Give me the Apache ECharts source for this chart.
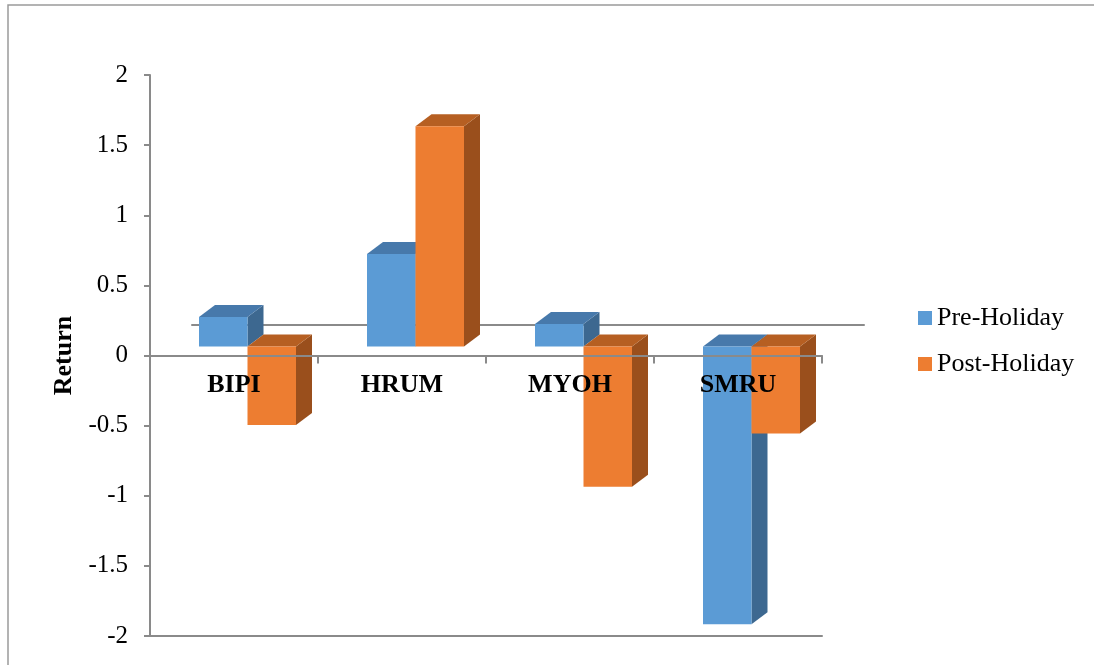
<!DOCTYPE html>
<html>
<head>
<meta charset="utf-8">
<script src="https://cdn.jsdelivr.net/npm/echarts@6/dist/echarts.min.js"></script>
<style>
  html, body { margin: 0; padding: 0; background: #fff; }
  #main { width: 1094px; height: 665px; }
</style>
</head>
<body>
<div id="main"></div>
<script>
// data
var categories = ['BIPI', 'HRUM', 'MYOH', 'SMRU'];
var preHoliday = [0.21, 0.66, 0.16, -1.98];
var postHoliday = [-0.56, 1.57, -1.0, -0.62];
var yTicks = { min: -2, max: 2, interval: 0.5 };

var FONT = '"Liberation Serif", "Times New Roman", serif';
var AXIS_GREY = '#8a8a8a';
var BAR_W = 48.5;     // front face width
var DX = 16, DY = 12; // fake 3D depth

var myChart = echarts.init(document.getElementById('main'));

// draws one pseudo-3D column: front, top and right side
function make3d(offsetBars, front, top, side) {
  return function (params, api) {
    var cat = api.value(0);
    var v = api.value(1);
    var pBase = api.coord([cat, 0]);
    var pVal = api.coord([cat, v]);
    var x0 = pBase[0] + offsetBars * BAR_W;
    var yt = Math.min(pBase[1], pVal[1]);
    var yb = Math.max(pBase[1], pVal[1]);
    var w = BAR_W;
    return {
      type: 'group',
      children: [
        { type: 'polygon',
          shape: { points: [[x0 + w, yt], [x0 + w, yb], [x0 + w + DX, yb - DY], [x0 + w + DX, yt - DY]] },
          style: { fill: side } },
        { type: 'polygon',
          shape: { points: [[x0, yt], [x0 + w, yt], [x0 + w + DX, yt - DY], [x0 + DX, yt - DY]] },
          style: { fill: top } },
        { type: 'rect',
          shape: { x: x0, y: yt, width: w, height: yb - yt },
          style: { fill: front } }
      ]
    };
  };
}

function toPairs(arr) {
  return arr.map(function (v, i) { return [i, v]; });
}

function hiddenY(idx, min) {
  return {
    type: 'value', gridIndex: idx, min: min, max: yTicks.max, interval: yTicks.interval,
    axisLine: { show: false }, axisTick: { show: false }, axisLabel: { show: false }, splitLine: { show: false }
  };
}

option = {
  animation: false,
  backgroundColor: '#fff',
  graphic: [{
    type: 'rect', silent: true,
    shape: { x: 8, y: 5, width: 1300, height: 900 },
    style: { fill: 'none', stroke: '#9a9a9a', lineWidth: 1.5 }
  }],
  legend: {
    orient: 'vertical',
    left: 913, top: 300,
    icon: 'rect',
    itemWidth: 14, itemHeight: 14,
    itemGap: 20,
    textStyle: { fontFamily: FONT, fontSize: 26, color: '#000' },
    data: ['Pre-Holiday', 'Post-Holiday']
  },
  grid: [
    { left: 150, top: 75, width: 672, height: 561, outerBoundsMode: 'none' },    // front axes + bottom edge
    { left: 163.5, top: 66, width: 672, height: 561, outerBoundsMode: 'none' },  // bars (mid depth)
    { left: 192, top: 44, width: 672, height: 280.5, outerBoundsMode: 'none' },  // back floor edge at zero
    { left: 150, top: 75, width: 672, height: 280.5, outerBoundsMode: 'none' }   // front zero line + labels
  ],
  xAxis: [
    { type: 'category', gridIndex: 0, data: categories, position: 'bottom',
      axisLine: { onZero: false, lineStyle: { color: AXIS_GREY, width: 2 } },
      axisTick: { show: false }, axisLabel: { show: false } },
    { type: 'category', gridIndex: 1, data: categories, show: false },
    { type: 'category', gridIndex: 2, data: categories, position: 'bottom', z: 0,
      axisLine: { onZero: false, lineStyle: { color: AXIS_GREY, width: 2 } },
      axisTick: { show: false }, axisLabel: { show: false } },
    { type: 'category', gridIndex: 3, data: categories, position: 'bottom', z: 10,
      axisLine: { onZero: false, lineStyle: { color: AXIS_GREY, width: 2 } },
      axisTick: { show: true, length: 8, lineStyle: { color: AXIS_GREY, width: 2 } },
      axisLabel: { fontFamily: FONT, fontSize: 26, fontWeight: 'bold', color: '#000', margin: 17 },
      splitLine: { show: false } }
  ],
  yAxis: [
    { type: 'value', gridIndex: 0, min: yTicks.min, max: yTicks.max, interval: yTicks.interval,
      name: 'Return', nameLocation: 'middle', nameRotate: 90, nameGap: 72,
      nameTextStyle: { fontFamily: FONT, fontSize: 26, fontWeight: 'bold', color: '#000' },
      axisLine: { show: true, lineStyle: { color: AXIS_GREY, width: 2 } },
      axisTick: { show: true, length: 6, lineStyle: { color: AXIS_GREY, width: 2 } },
      axisLabel: { fontFamily: FONT, fontSize: 25, color: '#000', margin: 22 },
      splitLine: { show: false } },
    hiddenY(1, yTicks.min), hiddenY(2, 0), hiddenY(3, 0)
  ],
  series: [
    { name: 'Pre-Holiday', type: 'custom', xAxisIndex: 1, yAxisIndex: 1, z: 2,
      itemStyle: { color: '#5b9bd5' },
      renderItem: make3d(-1, '#5b9bd5', '#4779ab', '#3d6890'),
      data: toPairs(preHoliday) },
    { name: 'Post-Holiday', type: 'custom', xAxisIndex: 1, yAxisIndex: 1, z: 3,
      itemStyle: { color: '#ed7d31' },
      renderItem: make3d(0, '#ed7d31', '#b65f22', '#9a4f1c'),
      data: toPairs(postHoliday) }
  ]
};
myChart.setOption(option);

window.onresize = function () {
  myChart.resize();
};
</script>
</body>
</html>
